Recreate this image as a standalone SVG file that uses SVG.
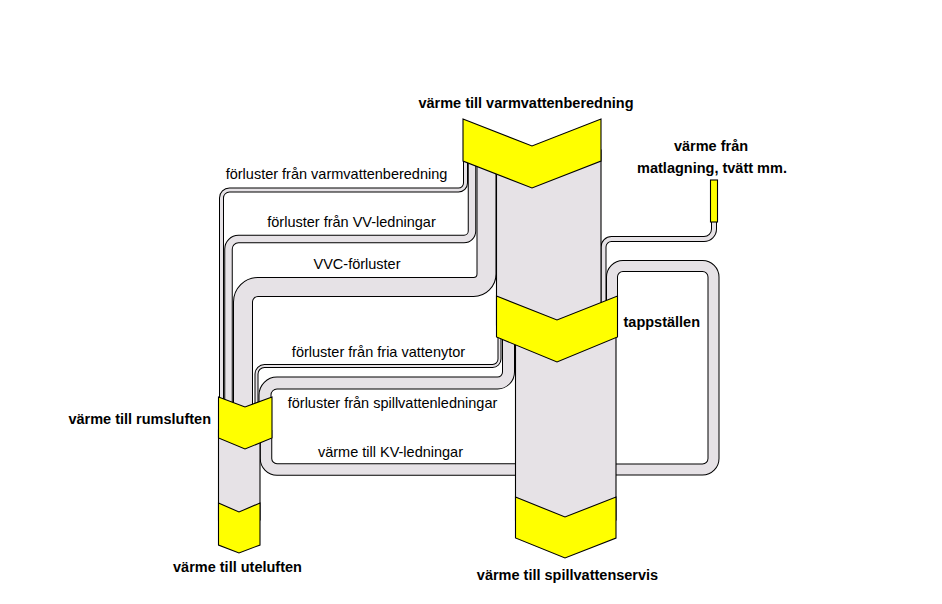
<svg xmlns="http://www.w3.org/2000/svg" width="942" height="604" viewBox="0 0 942 604">
<style>
  .po{fill:none;stroke:#000;stroke-linecap:butt}
  .pi{fill:none;stroke:#e6e2e6;stroke-linecap:butt}
  .col{fill:#e6e2e6;stroke:#000;stroke-width:1.1}
  .chev{fill:#ffff00;stroke:#000;stroke-width:1.1;stroke-linejoin:miter}
  .t{font-family:"Liberation Sans",Arial,sans-serif;font-size:14.5px;fill:#000}
  .b{font-weight:bold}
</style>
<rect width="942" height="604" fill="#fff"/>
<g id="connectors">
  <!-- pipe 1: förluster från varmvattenberedning -->
  <path class="po" stroke-width="5" d="M465.5,140 V183 A7,7 0 0 1 458.5,190 H229.5 A8,8 0 0 0 221.5,198 V412"/>
  <path class="pi" stroke-width="3" d="M465.5,140 V183 A7,7 0 0 1 458.5,190 H229.5 A8,8 0 0 0 221.5,198 V412"/>
  <!-- pipe 2: förluster från VV-ledningar -->
  <path class="po" stroke-width="8.5" d="M472,140 V231 A8,8 0 0 1 464,239 H238.5 A10,10 0 0 0 228.5,249 V412"/>
  <path class="pi" stroke-width="6.5" d="M472,140 V231 A8,8 0 0 1 464,239 H238.5 A10,10 0 0 0 228.5,249 V412"/>
  <!-- pipe 3: VVC-förluster -->
  <path class="po" stroke-width="20" d="M486.5,140 V274 A13,13 0 0 1 473.5,287 H258 A15,15 0 0 0 243,302 V412"/>
  <path class="pi" stroke-width="18" d="M486.5,140 V274 A13,13 0 0 1 473.5,287 H258 A15,15 0 0 0 243,302 V412"/>
  <!-- pipe 4: förluster från fria vattenytor -->
  <path class="po" stroke-width="4" d="M499.5,320 V359 A7,7 0 0 1 492.5,366 H264.5 A8,8 0 0 0 256.5,374 V420"/>
  <path class="pi" stroke-width="2" d="M499.5,320 V359 A7,7 0 0 1 492.5,366 H264.5 A8,8 0 0 0 256.5,374 V420"/>
  <!-- pipe 5: förluster från spillvattenledningar -->
  <path class="po" stroke-width="13" d="M508.5,320 V372 A11,11 0 0 1 497.5,383 H277 A12,12 0 0 0 265,395 V420"/>
  <path class="pi" stroke-width="11" d="M508.5,320 V372 A11,11 0 0 1 497.5,383 H277 A12,12 0 0 0 265,395 V420"/>
  <!-- KV-ledningar -->
  <path class="po" stroke-width="12.5" d="M518,469.5 H277 A11,11 0 0 1 266,458.5 V430"/>
  <path class="pi" stroke-width="10.5" d="M518,469.5 H277 A11,11 0 0 1 266,458.5 V430"/>
  <!-- matlagning -->
  <path class="po" stroke-width="6" d="M714,200 V229 A10,10 0 0 1 704,239 H611.5 A8,8 0 0 0 603.5,247 V312"/>
  <path class="pi" stroke-width="4" d="M714,200 V229 A10,10 0 0 1 704,239 H611.5 A8,8 0 0 0 603.5,247 V312"/>
  <!-- loop back to tappställen -->
  <path class="po" stroke-width="12" d="M614,469.5 H702.5 A11,11 0 0 0 713.5,458.5 V277 A11,11 0 0 0 702.5,266 H623 A11,11 0 0 0 612,277 V312"/>
  <path class="pi" stroke-width="10" d="M614,469.5 H702.5 A11,11 0 0 0 713.5,458.5 V277 A11,11 0 0 0 702.5,266 H623 A11,11 0 0 0 612,277 V312"/>
  <!-- column bodies -->
  <rect class="col" x="496.5" y="150" width="104.5" height="175"/>
  <rect class="col" x="515.5" y="335" width="100.5" height="185"/>
  <rect class="col" x="218.5" y="430" width="41.5" height="90"/>
</g>
<g id="varmvattenberedning">
  <polygon class="chev" points="463,119 532,146 601,119 601,161 532,188 463,161"/>
  <text class="t b" x="526" y="107.5" text-anchor="middle">värme till varmvattenberedning</text>
</g>
<g id="matlagning">
  <rect class="chev" x="710.5" y="180" width="7" height="42"/>
  <text class="t b" x="711" y="151" text-anchor="middle">värme från</text>
  <text class="t b" x="712" y="173" text-anchor="middle">matlagning, tvätt mm.</text>
</g>
<g id="tappstallen">
  <polygon class="chev" points="496.5,296 557,320 617.5,296 617.5,337 557,362 496.5,337"/>
  <text class="t b" x="623.5" y="327">tappställen</text>
</g>
<g id="rumsluften">
  <polygon class="chev" points="218.5,397 245,407 272,397 272,438 245,449 218.5,438"/>
  <text class="t b" x="211" y="423.5" text-anchor="end">värme till rumsluften</text>
</g>
<g id="uteluften">
  <polygon class="chev" points="218.5,503 239,512 260,503 260,545 239,553 218.5,545"/>
  <text class="t b" x="237.5" y="572" text-anchor="middle">värme till uteluften</text>
</g>
<g id="spillvattenservis">
  <polygon class="chev" points="515.5,497 565,517 616,497 616,538 565,558 515.5,538"/>
  <text class="t b" x="567.5" y="579.5" text-anchor="middle">värme till spillvattenservis</text>
</g>
<g id="labels">
  <text class="t" x="336.5" y="179" text-anchor="middle">förluster från varmvattenberedning</text>
  <text class="t" x="351.5" y="227" text-anchor="middle">förluster från VV-ledningar</text>
  <text class="t" x="357" y="268.5" text-anchor="middle">VVC-förluster</text>
  <text class="t" x="378.5" y="357" text-anchor="middle">förluster från fria vattenytor</text>
  <text class="t" x="392.5" y="407.5" text-anchor="middle">förluster från spillvattenledningar</text>
  <text class="t" x="390.5" y="456.5" text-anchor="middle">värme till KV-ledningar</text>
</g>
</svg>
